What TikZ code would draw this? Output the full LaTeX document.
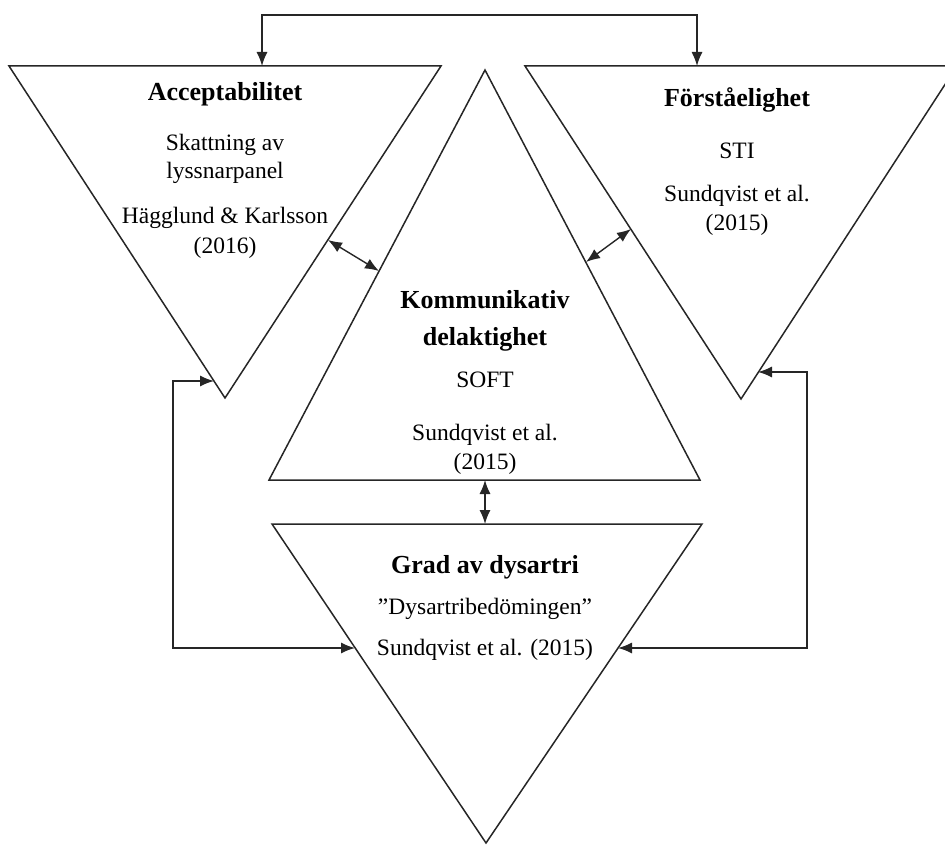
\documentclass[tikz,border=0pt]{standalone}
\usepackage{fontspec}
\setmainfont{Liberation Serif}
\usetikzlibrary{arrows.meta}
\tikzset{
  tri/.style={draw=black!85, line width=1.5pt, line join=miter},
  conn/.style={draw=black!85, line width=1.4pt, {Latex[length=14pt,width=11pt]}-{Latex[length=14pt,width=11pt]}},
  ttl/.style={font=\fontsize{26}{30}\selectfont\bfseries, inner sep=0pt, anchor=base},
  txt/.style={font=\fontsize{23.5}{27}\selectfont, inner sep=0pt, anchor=base}
}
\begin{document}
\begin{tikzpicture}[x=1pt,y=-1pt]
\useasboundingbox (0,0) rectangle (945,845);
\clip (0,0) rectangle (945,845);
% triangles
\coordinate (LA) at (9,66);   \coordinate (LB) at (441,66);  \coordinate (LC) at (225,398);
\coordinate (MA) at (485,70); \coordinate (MB) at (269,480); \coordinate (MC) at (700,480);
\coordinate (RA) at (525,66); \coordinate (RB) at (957,66);  \coordinate (RC) at (741,399);
\coordinate (BA) at (272,524);\coordinate (BB) at (702,524); \coordinate (BC) at (486,843);
\draw[tri] (LA) -- (LB) -- (LC) -- cycle;
\draw[tri] (MA) -- (MC) -- (MB) -- cycle;
\draw[tri] (RA) -- (RB) -- (RC) -- cycle;
\draw[tri] (BA) -- (BB) -- (BC) -- cycle;
% connector end points
\coordinate (topL) at (262,66);  \coordinate (topLu) at (262,15);
\coordinate (topR) at (697,66);  \coordinate (topRu) at (697,15);
\coordinate (lm1) at (328,240);  \coordinate (lm2) at (379,271);
\coordinate (rm1) at (631,229);  \coordinate (rm2) at (586,262);
\coordinate (mb1) at (485,480);  \coordinate (mb2) at (485,524);
\coordinate (lb1) at (214,381);  \coordinate (lbc1) at (173,381);
\coordinate (lbc2) at (173,648); \coordinate (lb2) at (355,648);
\coordinate (rb1) at (758,372);  \coordinate (rbc1) at (807,372);
\coordinate (rbc2) at (807,648); \coordinate (rb2) at (618,648);
% connectors
\draw[conn] (topL) -- (topLu) -- (topRu) -- (topR);
\draw[conn] (lm1) -- (lm2);
\draw[conn] (rm1) -- (rm2);
\draw[conn] (mb1) -- (mb2);
\draw[conn] (lb1) -- (lbc1) -- (lbc2) -- (lb2);
\draw[conn] (rb1) -- (rbc1) -- (rbc2) -- (rb2);
% texts: left
\node[ttl] (l1) at (225,101) {Acceptabilitet};
\node[txt] (l2) at (225,151) {Skattning av};
\node[txt] (l3) at (225,179) {lyssnarpanel};
\node[txt] (l4) at (225,224) {Hägglund \& Karlsson};
\node[txt] (l5) at (225,254) {(2016)};
% middle
\node[ttl] (m1) at (485,308) {Kommunikativ};
\node[ttl] (m2) at (485,345) {delaktighet};
\node[txt] (m3) at (485,387) {SOFT};
\node[txt] (m4) at (485,440) {Sundqvist et al.};
\node[txt] (m5) at (485,469) {(2015)};
% right
\node[ttl] (r1) at (737,107) {Förståelighet};
\node[txt] (r2) at (737,159) {STI};
\node[txt] (r3) at (737,202) {Sundqvist et al.};
\node[txt] (r4) at (737,230) {(2015)};
% bottom
\node[ttl] (b1) at (485,573) {Grad av dysartri};
\node[txt] (b2) at (485,614) {”Dysartribedömingen”};
\node[txt] (b3) at (485,655) {Sundqvist et al. (2015)};
\end{tikzpicture}
\end{document}
